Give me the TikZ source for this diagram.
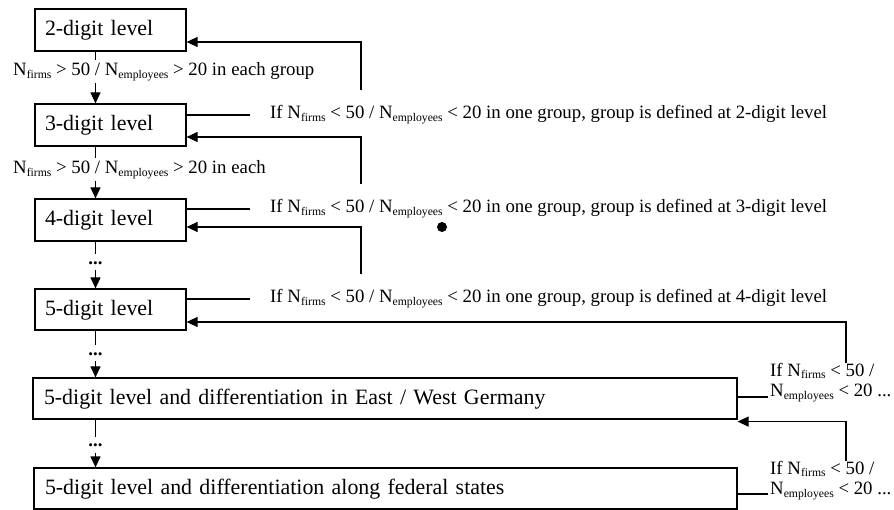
\documentclass[tikz,border=0pt]{standalone}
\usepackage{fontspec}
\setmainfont{Liberation Serif}
\usetikzlibrary{arrows.meta,calc}
\newcommand\lsub[1]{\raisebox{-2.5pt}{\fontsize{11.7}{12}\selectfont #1}}
\newcommand\boxfont{\fontsize{21.9}{26}\selectfont}
\newcommand\condfont{\fontsize{18.8}{20.5}\selectfont}
\begin{document}
\begin{tikzpicture}[x=1pt,y=-1pt,
  box/.style={draw, line width=1.2pt, font=\boxfont, align=left, inner xsep=10pt, inner ysep=0pt,
    text height=16pt, text depth=4pt, minimum height=42pt, anchor=center},
  cond/.style={font=\condfont, inner xsep=20pt, inner ysep=15pt, text height=14pt, text depth=6pt, anchor=base west},
  cond2/.style={font=\condfont, align=left, inner xsep=2pt, inner ysep=0pt, anchor=base west},
  lab/.style={font=\condfont, fill=white, inner xsep=1pt, inner ysep=3pt, text height=13pt, text depth=4pt, anchor=base west},
  dotsnode/.style={font=\condfont\bfseries, fill=white, inner xsep=1pt, inner ysep=6pt, text height=4pt, text depth=0pt, anchor=base},
  ln/.style={line width=1.2pt},
  arr/.style={line width=1.2pt, -{Triangle[length=11pt,width=10pt]}}]
\useasboundingbox (0,0) rectangle (894,510);

% boxes
\node[box, text width=131pt] (b1) at (110.5,30) {2-digit level};
\node[box, text width=131pt] (b2) at (110.5,125) {3-digit level};
\node[box, text width=131pt] (b3) at (110.5,220) {4-digit level};
\node[box, text width=131pt, minimum height=41pt] (b4) at (110.5,309.5) {5-digit level};
\node[box, text width=682pt, inner xsep=11pt, minimum height=41pt] (b5) at (385,398.5) {5-digit level and differentiation in East / West Germany};
\node[box, text width=681pt, inner xsep=11pt, minimum height=41pt] (b6) at (385.5,488.5) {5-digit level and differentiation along federal states};

% condition texts
\node[cond] (c1) at (250,119) {If N\lsub{firms} < 50 / N\lsub{employees} < 20 in one group, group is defined at 2-digit level};
\node[cond] (c2) at (250,213) {If N\lsub{firms} < 50 / N\lsub{employees} < 20 in one group, group is defined at 3-digit level};
\node[cond] (c3) at (250,303) {If N\lsub{firms} < 50 / N\lsub{employees} < 20 in one group, group is defined at 4-digit level};
\node[cond2] (c4) at (768,396.5) {If N\lsub{firms} < 50 /\\N\lsub{employees} < 20 ...};
\node[cond2] (c5) at (768,494.5) {If N\lsub{firms} < 50 /\\N\lsub{employees} < 20 ...};

\coordinate (xv) at (95.5,0);
\coordinate (xr) at (361,0);
\coordinate (xr2) at (846,0);
\coordinate (s4) at (0,397);
\coordinate (s5) at (0,494);

% vertical flow
\draw[arr] (b1.south -| xv) -- (b2.north -| xv);
\draw[arr] (b2.south -| xv) -- (b3.north -| xv);
\draw[arr] (b3.south -| xv) -- (b4.north -| xv);
\draw[arr] (b4.south -| xv) -- (b5.north -| xv);
\draw[arr] (b5.south -| xv) -- (b6.north -| xv);

% stubs from boxes to conditions
\draw[ln] (c1.west -| b2.east) -- (c1.west);
\draw[ln] (c2.west -| b3.east) -- (c2.west);
\draw[ln] (c3.west -| b4.east) -- (c3.west);
\draw[ln] (s4 -| b5.east) -- (s4 -| c4.west);
\draw[ln] (s5 -| b6.east) -- (s5 -| c5.west);

% feedback arrows
\draw[arr] (xr |- c1.north) |- ([yshift=-12pt]b1.east);
\draw[arr] (xr |- c2.north) |- ([yshift=-12pt]b2.east);
\draw[arr] (xr |- c3.north) |- ([yshift=-7pt]b3.east);
\draw[arr] (xr2 |- c4.north) |- ([yshift=-12.5pt]b4.east);
\draw[arr] (xr2 |- c5.north) |- ([yshift=-2pt]b5.south east);

% labels on vertical flow
\node[lab] (l1) at (12,76) {N\lsub{firms} > 50 / N\lsub{employees} > 20 in each group};
\node[lab] (l2) at (12,174) {N\lsub{firms} > 50 / N\lsub{employees} > 20 in each};
\node[dotsnode] (d1) at (95.5,264.5) {...};
\node[dotsnode] (d2) at (95.5,355.5) {...};
\node[dotsnode] (d3) at (95.5,446.5) {...};

% stray dot
\node[circle, fill=black, inner sep=0pt, minimum size=10pt] (bullet) at (442,227) {};
\end{tikzpicture}
\end{document}
